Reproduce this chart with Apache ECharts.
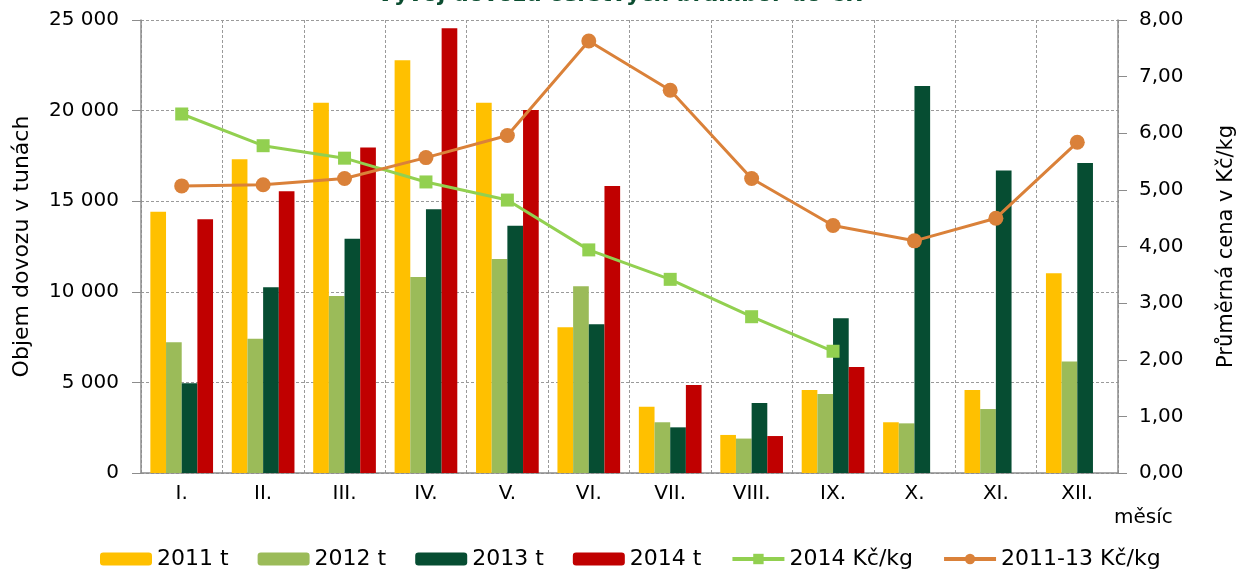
<!DOCTYPE html>
<html>
<head>
<meta charset="utf-8">
<script src="https://cdn.jsdelivr.net/npm/echarts@6/dist/echarts.min.js"></script>
<style>html,body{margin:0;padding:0;background:#fff}#c{width:1239px;height:571px}</style>
</head>
<body>
<div id="c"></div>
<script>
const months = ['I.','II.','III.','IV.','V.','VI.','VII.','VIII.','IX.','X.','XI.','XII.'];
const t2011 = [14420, 17310, 20440, 22780, 20440, 8040, 3660, 2100, 4580, 2800, 4580, 11020];
const t2012 = [7210, 7410, 9770, 10820, 11810, 10300, 2800, 1900, 4360, 2740, 3530, 6150];
const t2013 = [4950, 10250, 12930, 14550, 13650, 8210, 2520, 3860, 8540, 21360, 16690, 17110];
const t2014 = [14000, 15550, 17970, 24540, 20030, 15840, 4860, 2040, 5850, null, null, null];
const price2014 = [6.34, 5.78, 5.56, 5.14, 4.82, 3.94, 3.42, 2.76, 2.15, null, null, null];
const price1113 = [5.07, 5.09, 5.20, 5.57, 5.96, 7.63, 6.76, 5.20, 4.37, 4.10, 4.50, 5.84];
const leftTicks = [0, 5000, 10000, 15000, 20000, 25000];
const rightTicks = [0, 1, 2, 3, 4, 5, 6, 7, 8];

const FONT = 'DejaVu Sans';
const chart = echarts.init(document.getElementById('c'), null, {renderer: 'canvas'});
const barNames = ['2011 t', '2012 t', '2013 t', '2014 t'];
const barData = [t2011, t2012, t2013, t2014];
const barColors = ['#FFC000', '#9BBB59', '#064D32', '#C00000'];
const series = barData.map((d, i) => ({
  name: barNames[i], type: 'bar', data: d, yAxisIndex: 0,
  barGap: '0%', barCategoryGap: '23%',
  itemStyle: {color: barColors[i]}
}));
series.push({
  name: '2014 Kč/kg', type: 'line', data: price2014, yAxisIndex: 1,
  symbol: 'rect', symbolSize: 13, lineStyle: {width: 3, color: '#92D050'},
  itemStyle: {color: '#92D050'}, z: 5
});
series.push({
  name: '2011-13 Kč/kg', type: 'line', data: price1113, yAxisIndex: 1,
  symbol: 'circle', symbolSize: 15, lineStyle: {width: 3, color: '#DA8139'},
  itemStyle: {color: '#DA8139'}, z: 6
});

const fmtThousands = v => String(v).replace(/\B(?=(\d{3})+(?!\d))/g, ' ');
const gridLine = {show: true, lineStyle: {color: '#9A9A9A', type: [3, 2], width: 1}};

chart.setOption({
  animation: false,
  textStyle: {fontFamily: FONT},
  title: {
    text: 'Vývoj dovozu čerstvých brambor do ČR', left: 'center', top: -21,
    textStyle: {fontFamily: FONT, fontSize: 22, fontWeight: 'bold', color: '#0B4D30'}
  },
  grid: {left: 141, right: 121, top: 20, bottom: 98, outerBoundsMode: 'none', containLabel: false},
  legend: {
    bottom: -4, left: 95, itemWidth: 52, itemHeight: 13, itemGap: 29,
    textStyle: {fontFamily: FONT, fontSize: 22, color: '#000', padding: [0, 0, 0, 0]},
    data: ['2011 t', '2012 t', '2013 t', '2014 t',
      {name: '2014 Kč/kg', lineStyle: {width: 4}},
      {name: '2011-13 Kč/kg', lineStyle: {width: 4}}]
  },
  xAxis: {
    type: 'category', data: months,
    name: 'měsíc', nameLocation: 'end', nameGap: 0,
    nameTextStyle: {fontFamily: FONT, fontSize: 20, color: '#000', align: 'left', verticalAlign: 'top', padding: [35, 0, 0, -4]},
    axisLine: {lineStyle: {color: '#8C8C8C', width: 1.5}},
    axisTick: {show: false},
    axisLabel: {fontFamily: FONT, fontSize: 20, color: '#000', margin: 11},
    splitLine: gridLine
  },
  yAxis: [{
    type: 'value', min: leftTicks[0], max: leftTicks[leftTicks.length - 1], interval: 5000,
    name: 'Objem dovozu v tunách', nameLocation: 'middle', nameGap: 108,
    nameTextStyle: {fontFamily: FONT, fontSize: 22, color: '#000'},
    axisLine: {show: true, lineStyle: {color: '#8C8C8C', width: 1.5}},
    axisTick: {show: true, length: 9, lineStyle: {color: '#8C8C8C'}},
    axisLabel: {fontFamily: FONT, fontSize: 20, color: '#000', margin: 22, formatter: fmtThousands},
    splitLine: gridLine
  }, {
    type: 'value', min: rightTicks[0], max: rightTicks[rightTicks.length - 1], interval: 1,
    position: 'right',
    name: 'Průměrná cena v Kč/kg', nameLocation: 'middle', nameGap: 98,
    nameTextStyle: {fontFamily: FONT, fontSize: 21, color: '#000'},
    axisLine: {show: true, lineStyle: {color: '#8C8C8C', width: 1.5}},
    axisTick: {show: true, length: 9, lineStyle: {color: '#8C8C8C'}},
    axisLabel: {fontFamily: FONT, fontSize: 20, color: '#000', margin: 21,
      formatter: v => v.toFixed(2).replace('.', ',')},
    splitLine: {show: false}
  }],
  series: series
});
</script>
</body>
</html>
